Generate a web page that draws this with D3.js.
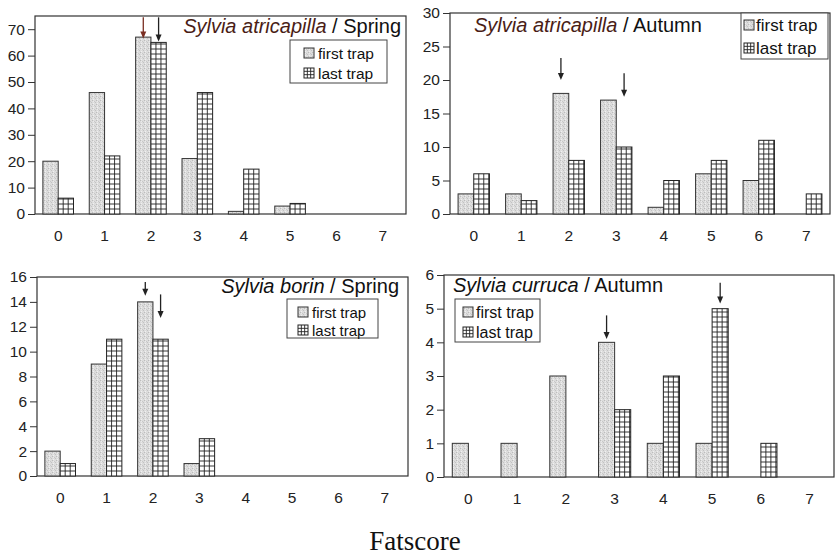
<!DOCTYPE html>
<html>
<head>
<meta charset="utf-8">
<script src="https://cdn.jsdelivr.net/npm/d3@7"></script>
<style>
  html, body { margin: 0; padding: 0; background: #fff; }
  svg { display: block; }
  .tick text { font-family: Arial, "Liberation Sans", sans-serif; fill: #222; }
</style>
</head>
<body>
<div id="chart"></div>
<script>
// Fatscore classes on the x axis
const fatscores = ['0', '1', '2', '3', '4', '5', '6', '7'];

// Sylvia atricapilla / Spring
const atriSpringFirst = [20, 46, 67, 21, 1, 3, 0, 0];
const atriSpringLast = [6, 22, 65, 46, 17, 4, 0, 0];
const atriSpringTicks = [0, 10, 20, 30, 40, 50, 60, 70];
const atriSpringArrows = [
  { cat: '2', series: 'first', from: 74.5, to: 66.5 },
  { cat: '2', series: 'last', from: 74.5, to: 65.3 }
];

// Sylvia atricapilla / Autumn
const atriAutumnFirst = [3, 3, 18, 17, 1, 6, 5, 0];
const atriAutumnLast = [6, 2, 8, 10, 5, 8, 11, 3];
const atriAutumnTicks = [0, 5, 10, 15, 20, 25, 30];
const atriAutumnArrows = [
  { cat: '2', series: 'first', from: 23.3, to: 20.0 },
  { cat: '3', series: 'last', from: 21.0, to: 17.5 }
];

// Sylvia borin / Spring
const borinSpringFirst = [2, 9, 14, 1, 0, 0, 0, 0];
const borinSpringLast = [1, 11, 11, 3, 0, 0, 0, 0];
const borinSpringTicks = [0, 2, 4, 6, 8, 10, 12, 14, 16];
const borinSpringArrows = [
  { cat: '2', series: 'first', from: 15.6, to: 14.5 },
  { cat: '2', series: 'last', from: 14.6, to: 12.7 }
];

// Sylvia curruca / Autumn
const currucaAutumnFirst = [1, 1, 3, 4, 1, 1, 0, 0];
const currucaAutumnLast = [0, 0, 0, 2, 3, 5, 1, 0];
const currucaAutumnTicks = [0, 1, 2, 3, 4, 5, 6];
const currucaAutumnArrows = [
  { cat: '3', series: 'first', from: 4.8, to: 4.1 },
  { cat: '5', series: 'last', from: 5.77, to: 5.15 }
];

const seriesNames = ['first trap', 'last trap'];

const W = 836, H = 558;
const FONT = 'Arial, "Liberation Sans", sans-serif';
const GRID = 5; // cell size of the "last trap" hatching

const svg = d3.select('#chart').append('svg')
  .attr('width', W)
  .attr('height', H);

// speckled grey fill for "first trap"
const defs = svg.append('defs');
const speckle = defs.append('pattern')
  .attr('id', 'speckle')
  .attr('patternUnits', 'userSpaceOnUse')
  .attr('width', 4)
  .attr('height', 4);
speckle.append('rect').attr('width', 4).attr('height', 4).attr('fill', '#dcdcdc');
[[0, 0, '#bcbcbc'], [2, 1, '#c8c8c8'], [1, 3, '#f0f0f0'], [3, 2, '#c2c2c2'], [1, 1, '#ebebeb']]
  .forEach(([px, py, c]) => speckle.append('rect')
    .attr('x', px).attr('y', py).attr('width', 1).attr('height', 1).attr('fill', c));

const panels = [
  {
    first: atriSpringFirst, last: atriSpringLast, ticks: atriSpringTicks, arrows: atriSpringArrows,
    yMax: 75, x0: 35, x1: 406, yTop: 16, yBottom: 214,
    title: { italic: 'Sylvia atricapilla', rest: ' / Spring', x: 401, y: 33, anchor: 'end', color: '#4a1d16' },
    legend: { x: 290, y: 40, w: 97, h: 43, rows: [53, 73], sx: 304, tx: 318, size: 15.5 },
    arrowColors: ['#7a2e22', '#222']
  },
  {
    first: atriAutumnFirst, last: atriAutumnLast, ticks: atriAutumnTicks, arrows: atriAutumnArrows,
    yMax: 30, x0: 450, x1: 830, yTop: 13, yBottom: 214,
    title: { italic: 'Sylvia atricapilla', rest: ' / Autumn', x: 474, y: 32, anchor: 'start', color: '#4a1d16' },
    legend: { x: 741, y: 13, w: 87, h: 46, rows: [25, 48], sx: 744, tx: 756, size: 17 },
    arrowColors: ['#222', '#222']
  },
  {
    first: borinSpringFirst, last: borinSpringLast, ticks: borinSpringTicks, arrows: borinSpringArrows,
    yMax: 16, x0: 37, x1: 408, yTop: 277, yBottom: 476,
    title: { italic: 'Sylvia borin', rest: ' / Spring', x: 399, y: 293, anchor: 'end', color: '#111' },
    legend: { x: 287, y: 299, w: 91, h: 39, rows: [312, 330], sx: 298, tx: 312, size: 15 },
    arrowColors: ['#222', '#222']
  },
  {
    first: currucaAutumnFirst, last: currucaAutumnLast, ticks: currucaAutumnTicks, arrows: currucaAutumnArrows,
    yMax: 6, x0: 444, x1: 834, yTop: 275, yBottom: 477,
    title: { italic: 'Sylvia curruca', rest: ' / Autumn', x: 453, y: 292, anchor: 'start', color: '#111' },
    legend: { x: 455, y: 299, w: 85, h: 43, rows: [312, 332], sx: 463, tx: 476, size: 16 },
    arrowColors: ['#222', '#222']
  }
];

// grid-hatched box (white with dark lines), used for "last trap" bars
function gridBox(g, bx, by, bw, bh, bottom) {
  g.append('rect')
    .attr('x', bx).attr('y', by).attr('width', bw).attr('height', bh)
    .attr('fill', '#fff');
  const vx = d3.range(bx + GRID, bx + bw - 0.5, GRID);
  const hy = d3.range(bottom - GRID, by + 0.5, -GRID);
  g.selectAll(null).data(vx).enter().append('line')
    .attr('x1', d => d).attr('x2', d => d).attr('y1', by).attr('y2', by + bh)
    .attr('stroke', '#222').attr('stroke-width', 0.9);
  g.selectAll(null).data(hy).enter().append('line')
    .attr('x1', bx).attr('x2', bx + bw).attr('y1', d => d).attr('y2', d => d)
    .attr('stroke', '#222').attr('stroke-width', 0.9);
  g.append('rect')
    .attr('x', bx).attr('y', by).attr('width', bw).attr('height', bh)
    .attr('fill', 'none').attr('stroke', '#222').attr('stroke-width', 1);
}

function drawPanel(p) {
  const g = svg.append('g');

  const x = d3.scaleBand().domain(fatscores).range([p.x0, p.x1]);
  const y = d3.scaleLinear().domain([0, p.yMax]).range([p.yBottom, p.yTop]);
  const bw = x.bandwidth() * 0.33;
  const barX = (cat, series) => x(cat) + x.bandwidth() / 2 + (series === 'first' ? -bw : 0);

  // plot frame
  g.append('rect')
    .attr('x', p.x0).attr('y', p.yTop)
    .attr('width', p.x1 - p.x0).attr('height', p.yBottom - p.yTop)
    .attr('fill', 'none').attr('stroke', '#333').attr('stroke-width', 1.2);

  // axes
  const yAxis = g.append('g')
    .attr('transform', `translate(${p.x0},0)`)
    .call(d3.axisLeft(y).tickValues(p.ticks).tickSize(7).tickPadding(3).tickFormat(d3.format('d')));
  yAxis.select('.domain').remove();
  yAxis.selectAll('.tick line').attr('stroke', '#333');
  yAxis.selectAll('.tick text').attr('font-size', 15.5).attr('font-family', FONT);

  const xAxis = g.append('g')
    .attr('transform', `translate(0,${p.yBottom})`)
    .call(d3.axisBottom(x).tickSize(0).tickPadding(16));
  xAxis.select('.domain').remove();
  xAxis.selectAll('.tick text').attr('font-size', 15.5).attr('font-family', FONT);

  // first trap bars
  const firstData = fatscores.map((c, i) => ({ cat: c, v: p.first[i] })).filter(d => d.v > 0);
  g.selectAll('.bar-first').data(firstData).enter().append('rect')
    .attr('class', 'bar-first')
    .attr('x', d => barX(d.cat, 'first'))
    .attr('y', d => y(d.v))
    .attr('width', bw)
    .attr('height', d => y(0) - y(d.v))
    .attr('fill', 'url(#speckle)')
    .attr('stroke', '#333').attr('stroke-width', 1);

  // last trap bars
  fatscores.forEach((c, i) => {
    const v = p.last[i];
    if (v <= 0) return;
    gridBox(g, barX(c, 'last'), y(v), bw, y(0) - y(v), y(0));
  });

  // arrows
  p.arrows.forEach((a, i) => {
    const ax = barX(a.cat, a.series) + bw / 2;
    const yA = y(a.from), yB = y(a.to);
    const col = p.arrowColors[i];
    g.append('line')
      .attr('x1', ax).attr('x2', ax).attr('y1', yA).attr('y2', yB - 5)
      .attr('stroke', col).attr('stroke-width', 1.3);
    g.append('path')
      .attr('d', `M${ax - 3},${yB - 7} L${ax + 3},${yB - 7} L${ax},${yB} Z`)
      .attr('fill', col);
  });

  // title
  const t = g.append('text')
    .attr('x', p.title.x).attr('y', p.title.y)
    .attr('text-anchor', p.title.anchor)
    .attr('font-family', FONT).attr('font-size', 20).attr('fill', '#111');
  t.append('tspan').attr('font-style', 'italic').attr('fill', p.title.color).text(p.title.italic);
  t.append('tspan').text(p.title.rest);

  // legend
  const L = p.legend;
  g.append('rect')
    .attr('x', L.x).attr('y', L.y).attr('width', L.w).attr('height', L.h)
    .attr('fill', '#fff').attr('stroke', '#444').attr('stroke-width', 1);
  seriesNames.forEach((name, i) => {
    const cy = L.rows[i];
    if (i === 0) {
      g.append('rect')
        .attr('x', L.sx).attr('y', cy - 5).attr('width', 10).attr('height', 10)
        .attr('fill', 'url(#speckle)').attr('stroke', '#333').attr('stroke-width', 1);
    } else {
      const s = 10 / 3;
      g.append('rect').attr('x', L.sx).attr('y', cy - 5).attr('width', 10).attr('height', 10).attr('fill', '#fff');
      [1, 2].forEach(k => {
        g.append('line').attr('x1', L.sx + k * s).attr('x2', L.sx + k * s)
          .attr('y1', cy - 5).attr('y2', cy + 5).attr('stroke', '#222').attr('stroke-width', 0.9);
        g.append('line').attr('x1', L.sx).attr('x2', L.sx + 10)
          .attr('y1', cy - 5 + k * s).attr('y2', cy - 5 + k * s).attr('stroke', '#222').attr('stroke-width', 0.9);
      });
      g.append('rect').attr('x', L.sx).attr('y', cy - 5).attr('width', 10).attr('height', 10)
        .attr('fill', 'none').attr('stroke', '#222').attr('stroke-width', 1);
    }
    g.append('text')
      .attr('x', L.tx).attr('y', cy + 5.5)
      .attr('font-family', FONT).attr('font-size', L.size).attr('fill', '#111')
      .text(name);
  });
}

panels.forEach(drawPanel);

// shared x axis title
svg.append('text')
  .attr('x', 415).attr('y', 550)
  .attr('text-anchor', 'middle')
  .attr('font-family', '"Times New Roman", "Liberation Serif", serif')
  .attr('font-size', 27)
  .attr('fill', '#111')
  .text('Fatscore');
</script>
</body>
</html>
